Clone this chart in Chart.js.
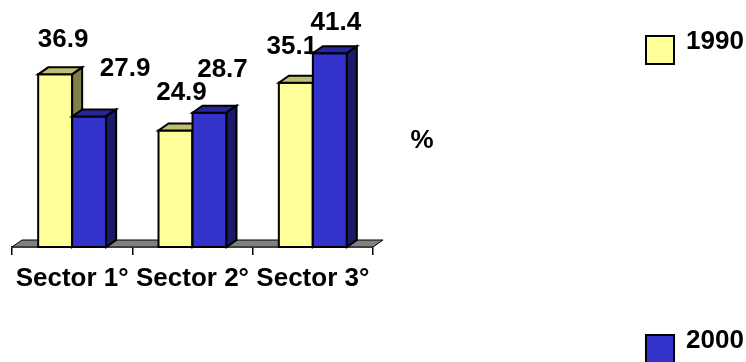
<!DOCTYPE html>
<html>
<head>
<meta charset="utf-8">
<script src="https://cdn.jsdelivr.net/npm/chart.js@4.4.0/dist/chart.umd.min.js"></script>
<style>
  html, body { margin: 0; padding: 0; background: #fff; }
  canvas { display: block; }
</style>
</head>
<body>
<canvas id="chart" width="746" height="362"></canvas>
<script>
// datos
const sectors = ['Sector 1°', 'Sector 2°', 'Sector 3°'];
const years = ['1990', '2000'];
const values1990 = [36.9, 24.9, 35.1];
const values2000 = [27.9, 28.7, 41.4];
const axisUnit = '%';

// aspecto 3D estilo Excel
const FONT = '"Liberation Sans", Arial, sans-serif';
const FONT_SIZE = 26;
const DEPTH = { dx: 10, dy: -7 };
const faces = [
  { front: '#FFFF99', top: '#BFBF73', side: '#80804D' },
  { front: '#3333CC', top: '#26269A', side: '#1A1A66' },
];
// las etiquetas estaban movidas a mano en el original: desplazamiento desde el tope de cada barra
const labelNudge = [
  [[8, -27], [6, -30], [-4, -29]],
  [[36, -40], [13, -36], [6, -23]],
];
const legendBoxes = [{ x: 646, y: 36 }, { x: 646, y: 335 }];

function poly(ctx, pts, fill) {
  ctx.beginPath();
  ctx.moveTo(pts[0][0], pts[0][1]);
  for (let k = 1; k < pts.length; k++) ctx.lineTo(pts[k][0], pts[k][1]);
  ctx.closePath();
  ctx.fillStyle = fill;
  ctx.fill();
  ctx.stroke();
}

const bars3d = {
  id: 'bars3d',
  beforeDatasetsDraw(chart) {
    const { ctx, chartArea: a } = chart;
    const { dx, dy } = DEPTH;
    const y = a.bottom;
    ctx.save();
    ctx.strokeStyle = '#000';
    ctx.lineWidth = 1;
    poly(ctx, [[a.left, y], [a.right, y], [a.right + dx, y + dy], [a.left + dx, y + dy]], '#808080');
    ctx.restore();
  },
  afterDatasetsDraw(chart) {
    const { ctx } = chart;
    const { dx, dy } = DEPTH;
    const metas = chart.data.datasets.map((_, i) => chart.getDatasetMeta(i));
    ctx.save();
    ctx.strokeStyle = '#000';
    ctx.lineWidth = 2;
    ctx.lineJoin = 'miter';
    sectors.forEach((_, j) => {
      metas.forEach((meta, i) => {
        const b = meta.data[j];
        const x0 = b.x - b.width / 2, x1 = b.x + b.width / 2, t = b.y, base = b.base;
        poly(ctx, [[x0, t], [x1, t], [x1, base], [x0, base]], faces[i].front);
        poly(ctx, [[x0, t], [x1, t], [x1 + dx, t + dy], [x0 + dx, t + dy]], faces[i].top);
        poly(ctx, [[x1, t], [x1 + dx, t + dy], [x1 + dx, base + dy], [x1, base]], faces[i].side);
      });
    });

    // etiquetas de valor
    ctx.fillStyle = '#000';
    ctx.font = 'bold ' + FONT_SIZE + 'px ' + FONT;
    ctx.textAlign = 'center';
    ctx.textBaseline = 'alphabetic';
    metas.forEach((meta, i) => {
      const vals = chart.data.datasets[i].data;
      meta.data.forEach((b, j) => {
        const [nx, ny] = labelNudge[i][j];
        ctx.fillText(vals[j].toFixed(1), b.x + nx, b.y + ny);
      });
    });

    // unidad del eje
    ctx.fillText(axisUnit, 422, 148);

    // leyenda
    ctx.textAlign = 'left';
    ctx.lineWidth = 2;
    chart.data.datasets.forEach((ds, i) => {
      const p = legendBoxes[i];
      ctx.fillStyle = faces[i].front;
      ctx.fillRect(p.x, p.y, 28, 28);
      ctx.strokeRect(p.x, p.y, 28, 28);
      ctx.fillStyle = '#000';
      ctx.fillText(ds.label, p.x + 40, p.y + 13);
    });
    ctx.restore();
  },
};

new Chart(document.getElementById('chart'), {
  type: 'bar',
  data: {
    labels: sectors,
    datasets: [
      { label: years[0], data: values1990, backgroundColor: 'rgba(0,0,0,0)', borderWidth: 0 },
      { label: years[1], data: values2000, backgroundColor: 'rgba(0,0,0,0)', borderWidth: 0 },
    ],
  },
  options: {
    responsive: false,
    animation: false,
    datasets: { bar: { categoryPercentage: 0.565, barPercentage: 1 } },
    layout: { padding: { left: 12, right: 373, top: 13, bottom: 0 } },
    plugins: { legend: { display: false }, tooltip: { enabled: false } },
    scales: {
      x: {
        offset: true,
        grid: { offset: true, drawOnChartArea: false, drawTicks: true, tickLength: 8, color: '#000', lineWidth: 1.5 },
        border: { display: true, color: '#000', width: 1.5 },
        ticks: {
          color: '#000', padding: 8, maxRotation: 0, minRotation: 0, autoSkip: false,
          font: { family: FONT, size: FONT_SIZE, weight: 'bold' },
        },
        afterFit: s => { s.height = 115; },
      },
      y: { display: false, min: 0, max: 50 },
    },
  },
  plugins: [bars3d],
});
</script>
</body>
</html>
